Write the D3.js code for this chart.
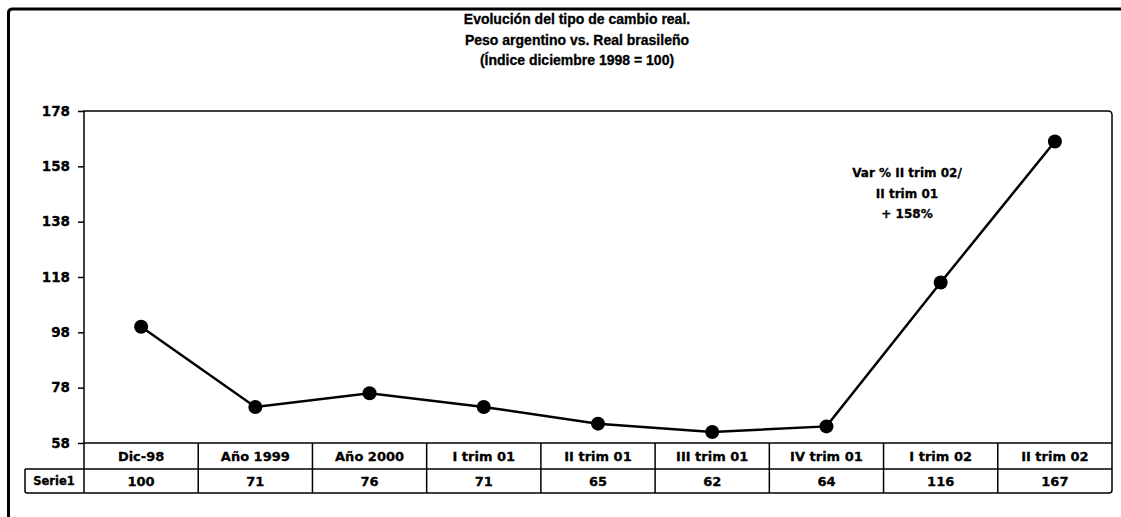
<!DOCTYPE html>
<html>
<head>
<meta charset="utf-8">
<script src="https://cdn.jsdelivr.net/npm/d3@7"></script>
<style>
  body { margin: 0; background: #fff; }
  text { font-family: "DejaVu Sans", "Liberation Sans", sans-serif; font-weight: bold; fill: #000; stroke: #000; stroke-width: 0.3px; }
</style>
</head>
<body>
<svg id="chart" width="1121" height="517"></svg>
<script>
// data
const categories = ['Dic-98', 'Año 1999', 'Año 2000', 'I trim 01', 'II trim 01', 'III trim 01', 'IV trim 01', 'I trim 02', 'II trim 02'];
const values = [100, 71, 76, 71, 65, 62, 64, 116, 167];
const yTicks = [58, 78, 98, 118, 138, 158, 178];
const titleLines = ['Evolución del tipo de cambio real.', 'Peso argentino vs. Real brasileño', '(Índice diciembre 1998 = 100)'];
const noteLines = ['Var % II trim 02/', 'II trim 01', '+ 158%'];
const seriesName = 'Serie1';

const svg = d3.select('#chart');
const pLeft = 84, pRight = 1112, pTop = 111, pBottom = 443;
const rowH = 25;

// outer frame
svg.append('path')
  .attr('d', 'M8.5,517 L8.5,13 Q8.5,9 12.5,9 L1121,9')
  .attr('fill', 'none').attr('stroke', '#000').attr('stroke-width', 3);

// title
svg.append('g').selectAll('text').data(titleLines).join('text')
  .attr('x', 577).attr('y', (d, i) => 24 + i * 20.5)
  .attr('text-anchor', 'middle')
  .style('font-family', '"Liberation Sans", Arial, sans-serif')
  .attr('font-size', 14)
  .text(d => d);

const x = d3.scaleBand().domain(categories).range([pLeft, pRight]);
const y = d3.scaleLinear().domain([58, 178]).range([pBottom, pTop]);

// plot area frame
svg.append('path')
  .attr('d', `M${pLeft},${pBottom} L${pLeft},${pTop} L${pRight - 4},${pTop} Q${pRight},${pTop} ${pRight},${pTop + 4} L${pRight},${pBottom}`)
  .attr('fill', 'none').attr('stroke', '#000').attr('stroke-width', 1.5);

// y axis
const yAxis = svg.append('g')
  .attr('transform', `translate(${pLeft},0)`)
  .call(d3.axisLeft(y).tickValues(yTicks).tickSize(6).tickPadding(8));
yAxis.select('.domain').remove();
yAxis.selectAll('line').attr('stroke-width', 1.5);
yAxis.selectAll('text').attr('font-size', 13.5).attr('font-family', '"DejaVu Sans", sans-serif').attr('font-weight', 'bold');

// data table
const table = svg.append('g');
table.append('line').attr('x1', pLeft).attr('x2', pRight).attr('y1', pBottom).attr('y2', pBottom);
table.append('line').attr('x1', 25).attr('x2', pRight).attr('y1', pBottom + rowH + 1).attr('y2', pBottom + rowH + 1);
table.append('path')
  .attr('d', `M25,${pBottom + rowH + 1} L25,${pBottom + 2 * rowH - 2} Q25,${pBottom + 2 * rowH} 27,${pBottom + 2 * rowH} L${pRight - 3},${pBottom + 2 * rowH} Q${pRight},${pBottom + 2 * rowH} ${pRight},${pBottom + 2 * rowH - 3} L${pRight},${pBottom}`)
  .attr('fill', 'none');
table.selectAll('line.sep').data(categories).join('line')
  .attr('class', 'sep')
  .attr('x1', d => x(d)).attr('x2', d => x(d))
  .attr('y1', pBottom).attr('y2', pBottom + 2 * rowH);
table.selectAll('line, path').attr('stroke', '#000').attr('stroke-width', 1.5);

table.selectAll('text.cat').data(categories).join('text')
  .attr('class', 'cat')
  .attr('x', d => x(d) + x.bandwidth() / 2).attr('y', pBottom + 18)
  .attr('text-anchor', 'middle').attr('font-size', 13)
  .text(d => d);
table.selectAll('text.val').data(values).join('text')
  .attr('class', 'val')
  .attr('x', (d, i) => x(categories[i]) + x.bandwidth() / 2).attr('y', pBottom + rowH + 18)
  .attr('text-anchor', 'middle').attr('font-size', 13)
  .text(d => d);
table.append('text')
  .attr('x', 54).attr('y', pBottom + rowH + 17)
  .attr('text-anchor', 'middle').attr('font-size', 11.5)
  .text(seriesName);

// series line and markers
const pts = values.map((v, i) => [x(categories[i]) + x.bandwidth() / 2, y(v)]);
svg.append('path')
  .attr('d', d3.line()(pts))
  .attr('fill', 'none').attr('stroke', '#000').attr('stroke-width', 2.5);
svg.append('g').selectAll('circle').data(pts).join('circle')
  .attr('cx', d => d[0]).attr('cy', d => d[1]).attr('r', 7)
  .attr('fill', '#000');

// annotation
svg.append('g').selectAll('text').data(noteLines).join('text')
  .attr('x', 907).attr('y', (d, i) => 177 + i * 20.5)
  .attr('text-anchor', 'middle').attr('font-size', 12)
  .text(d => d);
</script>
</body>
</html>
